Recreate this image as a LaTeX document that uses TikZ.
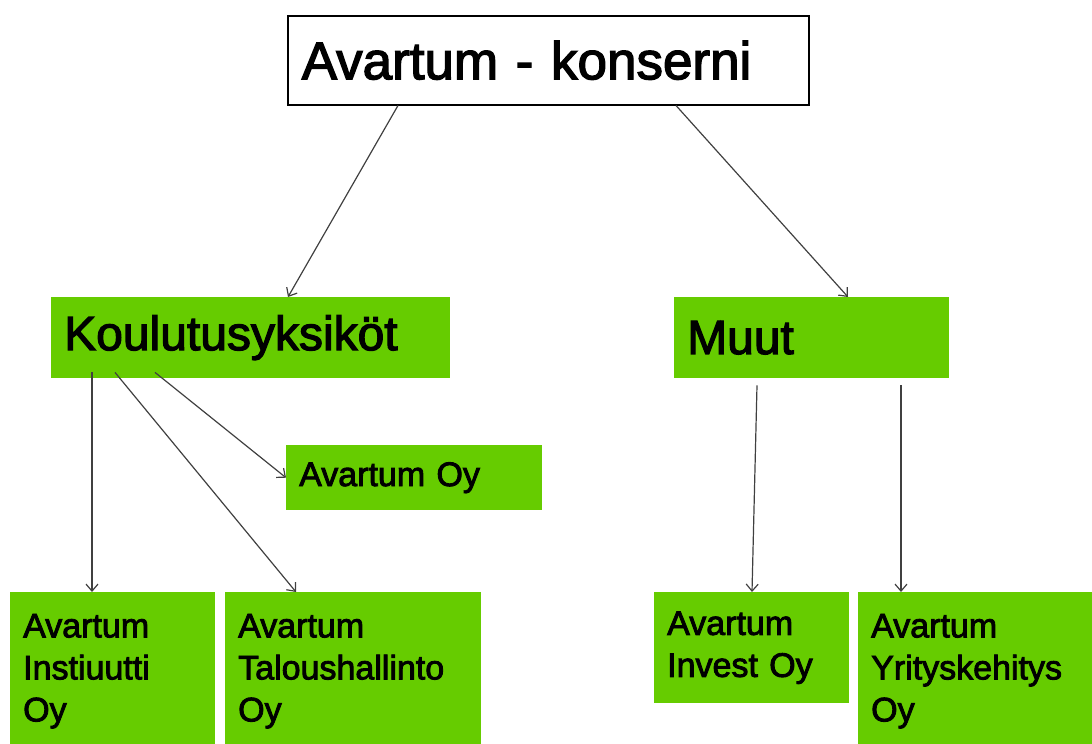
\documentclass[tikz,border=0pt]{standalone}
\usepackage{fontspec}
\setmainfont{Liberation Sans}[BoldFont={Liberation Sans}, BoldFeatures={FakeBold=2.5}]
\usepackage{tikz}
\usetikzlibrary{arrows.meta,positioning}
\definecolor{orggreen}{RGB}{102,204,0}
\definecolor{linegray}{RGB}{64,64,64}
\tikzset{
  unit/.style={fill=orggreen, anchor=north west, align=left, inner xsep=13pt, inner ysep=0pt},
  bigunit/.style={unit, font=\fontsize{48}{56}\selectfont\bfseries},
  smallunit/.style={unit, font=\fontsize{34}{42}\selectfont\bfseries},
  link/.style={draw=linegray, line width=1.2pt, -{Straight Barb[length=7pt,width=12pt]}}
}

\begin{document}
\begin{tikzpicture}[x=1pt,y=-1pt]
                \useasboundingbox (0,0) rectangle (1092,744);
                \clip (0,0) rectangle (1092,744);
                \node[draw=black, line width=1.5pt, fill=white, anchor=north west, align=left, inner xsep=14pt, inner ysep=0pt, text width=493pt, minimum height=89pt, font=\fontsize{53}{64}\selectfont\bfseries] (konserni) at (287,15) {Avartum - konserni};
                \node[bigunit, text width=373pt, minimum height=81pt] (koulutus) at (51,297) {Koulutusyksiköt};
                \node[bigunit, text width=249pt, minimum height=81pt] (muut) at (674,297) {Muut};
                \node[smallunit, text width=230pt, minimum height=65pt] (avoy) at (286,445) {Avartum Oy};
                \node[smallunit, text width=179pt, minimum height=158pt] (instituutti) at (10,592) {Avartum\\Instiuutti\\Oy};
                \node[smallunit, text width=230pt, minimum height=158pt] (talous) at (225,592) {Avartum\\Taloushallinto\\Oy};
                \node[smallunit, text width=169pt, minimum height=111pt] (invest) at (654,592) {Avartum\\Invest Oy};
                \node[smallunit, text width=214pt, minimum height=158pt] (yritys) at (858,592) {Avartum\\Yrityskehitys\\Oy};
                \draw[link] ([xshift=111pt]konserni.south west) -- ([xshift=237pt]koulutus.north west);
                \draw[link] ([xshift=389pt]konserni.south west) -- ([xshift=174pt]muut.north west);
                \draw[link] ([xshift=41pt,yshift=6pt]koulutus.south west) -- ([xshift=82pt]instituutti.north west);
                \draw[link] ([xshift=64pt,yshift=6pt]koulutus.south west) -- ([xshift=71pt]talous.north west);
                \draw[link] ([xshift=104pt,yshift=6pt]koulutus.south west) -- (avoy.west);
                \draw[link] ([xshift=83pt,yshift=-7pt]muut.south west) -- ([xshift=98pt]invest.north west);
                \draw[link] ([xshift=227pt,yshift=-7pt]muut.south west) -- ([xshift=43pt]yritys.north west);
            \end{tikzpicture}
\end{document}
